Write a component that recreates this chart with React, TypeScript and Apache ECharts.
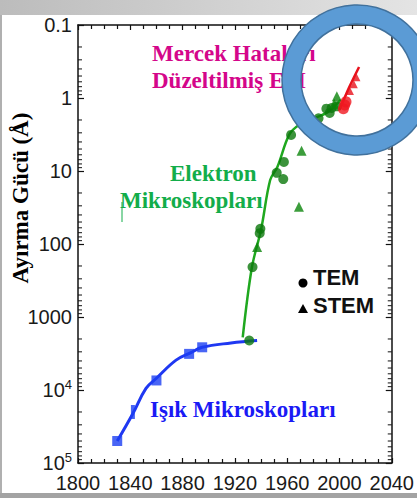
import React, { useEffect, useRef } from "react";
import * as echarts from "echarts";

// ---- data ----
const blueCurveYears = [1830, 1842, 1852, 1860, 1875, 1886, 1895, 1917, 1937];
const blueCurveRes = [50000, 21000, 9500, 6900, 3900, 3100, 2600, 2270, 2100];
const lightYears = [1830, 1860, 1885, 1895];
const lightRes = [50000, 7400, 3200, 2600];
const lightThinYears = [1842];
const lightThinRes = [20000];

const greenCurveYears = [1926, 1933, 1940, 1947, 1952.5, 1961.5, 1969, 1981, 1990, 2001];
const greenCurveRes = [1900, 210, 64, 13.3, 8.8, 3.2, 2.34, 1.88, 1.6, 1.06];
const temYears = [1931, 1933.5, 1939, 1939.5, 1952, 1957.5, 1957, 1963, 1984, 1990, 1992.5, 1994, 1998];
const temRes = [2100, 207, 71, 62, 10.6, 7.5, 12.9, 3.2, 1.9, 1.4, 1.6, 1.37, 1.3];
const stemYears = [1937, 1969, 1971, 1996, 1998];
const stemRes = [110, 31, 5.3, 1.2, 0.95];

const redCurveYears = [2000, 2007.5, 2015];
const redCurveRes = [1.46, 0.71, 0.376];
const redTemYears = [2003, 2004, 2005];
const redTemRes = [1.4, 1.25, 1.13];
const redStemYears = [2008, 2011, 2013];
const redStemRes = [0.8, 0.65, 0.52];

const yTickLabels = ["0.1", "1", "10", "100", "1000", "10{sup|4}", "10{sup|5}"];
const decades = [0.1, 1, 10, 100, 1000, 10000];
const minorMultipliers = [2, 3, 4, 5, 6, 7, 8, 9];

const pairs = (xs: number[], ys: number[]) => xs.map((x, i) => [x, ys[i]]);

export default function App() {
  const ref = useRef<HTMLDivElement>(null);
  useEffect(() => {
    if (!ref.current) return;
    const chart = echarts.init(ref.current, undefined, { renderer: "svg" });
    const minorVals: number[][] = [];
    decades.forEach((d) => minorMultipliers.forEach((m) => minorVals.push([1800, d * m])));

    const axisLine = { show: true, lineStyle: { color: "#111", width: 1.5 } };
    const labelFont = { fontFamily: "Liberation Sans, Arial, sans-serif", fontSize: 20, color: "#1a1a1a" };

    chart.setOption({
      animation: false,
      backgroundColor: "#ffffff",
      grid: { left: 78, right: 21, top: 25, bottom: 35 },
      xAxis: [
        {
          type: "value", min: 1800, max: 2040, interval: 40,
          axisLine, splitLine: { show: false },
          axisTick: { inside: true, length: 5, lineStyle: { color: "#111", width: 1.2 } },
          minorTick: { show: true, splitNumber: 4, length: 4, lineStyle: { color: "#111", width: 1.2 } },
          axisLabel: { ...labelFont, margin: 10, formatter: (v: number) => String(v) },
        },
        {
          type: "value", position: "top", min: 1800, max: 2040, interval: 40,
          axisLine, splitLine: { show: false },
          axisTick: { inside: true, length: 5, lineStyle: { color: "#111", width: 1.2 } },
          minorTick: { show: true, splitNumber: 4, length: 4, lineStyle: { color: "#111", width: 1.2 } },
          axisLabel: { show: false },
        },
      ],
      yAxis: [
        {
          type: "log", logBase: 10, inverse: true, min: 0.1, max: 100000,
          axisLine, splitLine: { show: false },
          axisTick: { inside: true, length: 6, lineStyle: { color: "#111", width: 1.2 } },
          axisLabel: {
            ...labelFont, margin: 6,
            formatter: (v: number) => yTickLabels[Math.round(Math.log10(v)) + 1] ?? "",
            rich: { sup: { ...labelFont, fontSize: 13, verticalAlign: "top", padding: [0, 0, 12, 0] } },
          },
        },
        {
          type: "log", logBase: 10, inverse: true, min: 0.1, max: 100000, position: "right",
          axisLine, splitLine: { show: false },
          axisTick: { inside: true, length: 6, lineStyle: { color: "#111", width: 1.2 } },
          axisLabel: { show: false },
        },
      ],
      series: [
        {
          type: "custom", name: "minorTicks", silent: true, z: 3,
          data: minorVals,
          renderItem: (params: any, api: any) => {
            const p = api.coord([api.value(0), api.value(1)]);
            const cs = params.coordSys;
            return {
              type: "group",
              children: [
                { type: "line", shape: { x1: cs.x, y1: p[1], x2: cs.x + 4, y2: p[1] }, style: { stroke: "#111", lineWidth: 1 } },
                { type: "line", shape: { x1: cs.x + cs.width - 4, y1: p[1], x2: cs.x + cs.width, y2: p[1] }, style: { stroke: "#111", lineWidth: 1 } },
              ],
            };
          },
        },
        {
          type: "line", data: pairs(blueCurveYears, blueCurveRes), smooth: 0.4, showSymbol: false,
          lineStyle: { color: "#1f38f2", width: 3 }, z: 2,
        },
        {
          type: "scatter", data: pairs(lightYears, lightRes), symbol: "rect", symbolSize: 10,
          itemStyle: { color: "#1b3ef2" }, z: 4,
        },
        {
          type: "scatter", data: pairs(lightThinYears, lightThinRes), symbol: "rect", symbolSize: [4, 14],
          itemStyle: { color: "#1b3ef2" }, z: 4,
        },
        {
          type: "line", data: pairs(greenCurveYears, greenCurveRes), smooth: 0.35, showSymbol: false,
          lineStyle: { color: "#1fa81f", width: 2.5 }, z: 2,
        },
        {
          type: "scatter", data: pairs(temYears, temRes), symbol: "circle", symbolSize: 10,
          itemStyle: { color: "#0b780b" }, z: 4,
        },
        {
          type: "scatter", data: pairs(stemYears, stemRes), symbol: "triangle", symbolSize: 10,
          itemStyle: { color: "#0b840b" }, z: 4,
        },
        {
          type: "line", data: pairs(redCurveYears, redCurveRes), smooth: 0.3, showSymbol: false,
          lineStyle: { color: "#e8121c", width: 2.5 }, z: 2,
        },
        {
          type: "scatter", data: pairs(redTemYears, redTemRes), symbol: "circle", symbolSize: 11,
          itemStyle: { color: "#f01820" }, z: 4,
        },
        {
          type: "scatter", data: pairs(redStemYears, redStemRes), symbol: "triangle", symbolSize: 8,
          itemStyle: { color: "#e8121c" }, z: 4,
        },
      ],
      graphic: [
        {
          type: "rect", z: -10, silent: true,
          shape: { x: 0, y: 0, width: 417, height: 15 },
          style: {
            fill: new echarts.graphic.LinearGradient(0, 0, 1, 0, [
              { offset: 0, color: "#bcbcbc" },
              { offset: 1, color: "#e4e4e4" },
            ]),
          },
        },
        { type: "rect", z: -10, silent: true, shape: { x: 0, y: 493, width: 417, height: 5 }, style: { fill: "#a3a3a3" } },
        { type: "rect", z: -10, silent: true, shape: { x: 0, y: 15, width: 2, height: 478 }, style: { fill: "#b0b0b0" } },
        {
          type: "text", x: 20, y: 198, rotation: Math.PI / 2, z: 10,
          style: {
            text: "Ayırma Gücü (Å)", fill: "#000", font: "bold 23px 'Liberation Serif', 'Times New Roman', serif",
            align: "center", verticalAlign: "middle",
          },
        },
        {
          type: "text", x: 152, y: 53, z: 10,
          style: { text: "Mercek Hataları", fill: "#d4068a", font: "bold 23px 'Liberation Serif', serif", verticalAlign: "middle" },
        },
        {
          type: "text", x: 152, y: 80, z: 10,
          style: { text: "Düzeltilmiş EM", fill: "#d4068a", font: "bold 23px 'Liberation Serif', serif", verticalAlign: "middle" },
        },
        {
          type: "text", x: 170, y: 173, z: 10,
          style: { text: "Elektron", fill: "#12ad4a", font: "bold 23px 'Liberation Serif', serif", verticalAlign: "middle" },
        },
        {
          type: "text", x: 120, y: 200, z: 10,
          style: { text: "Mikroskopları", fill: "#12ad4a", font: "bold 23px 'Liberation Serif', serif", verticalAlign: "middle" },
        },
        { type: "line", z: 10, shape: { x1: 122, y1: 202, x2: 122, y2: 222 }, style: { stroke: "#12ad4a", lineWidth: 1 } },
        {
          type: "text", x: 150, y: 409, z: 10,
          style: { text: "Işık Mikroskopları", fill: "#1a1af5", font: "bold 23px 'Liberation Serif', serif", verticalAlign: "middle" },
        },
        { type: "circle", z: 10, shape: { cx: 303, cy: 283, r: 4.5 }, style: { fill: "#000" } },
        {
          type: "text", x: 313, y: 277, z: 10,
          style: { text: "TEM", fill: "#111", font: "bold 22px 'Liberation Sans', Arial, sans-serif", verticalAlign: "middle" },
        },
        { type: "polygon", z: 10, shape: { points: [[303, 304], [308, 313], [298, 313]] }, style: { fill: "#000" } },
        {
          type: "text", x: 313, y: 305, z: 10,
          style: { text: "STEM", fill: "#111", font: "bold 22px 'Liberation Sans', Arial, sans-serif", verticalAlign: "middle" },
        },
        {
          type: "ring", z: 100,
          shape: { cx: 357, cy: 80, r: 75, r0: 56 },
          style: { fill: "#5b9bd5", stroke: "#41719c", lineWidth: 1.5 },
        },
      ],
    });
    return () => chart.dispose();
  }, []);
  return <div ref={ref} style={{ position: "fixed", left: 0, top: 0, width: 417, height: 498 }} />;
}
